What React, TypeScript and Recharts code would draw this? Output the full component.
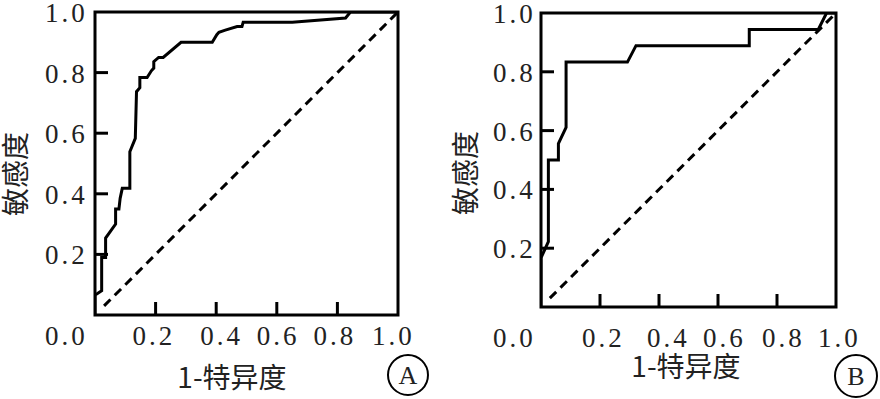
import React from 'react';
import { LineChart, Line, XAxis, YAxis, ReferenceArea } from 'recharts';

// ---- Data ----
const TICKS = [0, 0.2, 0.4, 0.6, 0.8, 1.0];
const X_TITLE = '1-特异度';
const Y_TITLE = '敏感度';

// Panel A ROC curve (1-specificity, sensitivity)
const A_FPR = [0, 0, 0.007, 0.022, 0.022, 0.035, 0.035, 0.068, 0.068, 0.079, 0.083, 0.09, 0.115, 0.115, 0.133, 0.137, 0.148, 0.148, 0.172, 0.186, 0.194, 0.194, 0.21, 0.225, 0.284, 0.387, 0.402, 0.409, 0.43, 0.469, 0.485, 0.489, 0.651, 0.827, 0.843, 1];
const A_TPR = [0, 0.066, 0.07, 0.08, 0.19, 0.19, 0.254, 0.3, 0.35, 0.35, 0.385, 0.418, 0.418, 0.539, 0.583, 0.737, 0.75, 0.784, 0.784, 0.806, 0.815, 0.836, 0.85, 0.85, 0.9, 0.9, 0.925, 0.933, 0.94, 0.952, 0.952, 0.966, 0.966, 0.98, 1, 1];

// Panel B ROC curve
const B_FPR = [0, 0, 0.025, 0.025, 0.059, 0.059, 0.085, 0.085, 0.293, 0.322, 0.706, 0.706, 0.94, 0.968, 1];
const B_TPR = [0, 0.167, 0.222, 0.5, 0.5, 0.556, 0.611, 0.833, 0.833, 0.889, 0.889, 0.944, 0.944, 1, 1];

// Reference diagonal
const DIAG_X = [0.03, 1];
const DIAG_Y = [0.03, 1];

const toPts = (xs: number[], ys: number[]) => xs.map((x, i) => ({ x, y: ys[i] }));
const dataA = toPts(A_FPR, A_TPR);
const dataB = toPts(B_FPR, B_TPR);
const diag = toPts(DIAG_X, DIAG_Y);

const NUM_FONT = "'Liberation Serif', 'DejaVu Serif', serif";
const CJK_FONT = "'Noto Sans CJK SC', 'Noto Sans', sans-serif";

type PanelCfg = {
  letter: string;
  data: { x: number; y: number }[];
  margin: { top: number; right: number; left: number; bottom: number };
  yAxisWidth: number;
  xAxisHeight: number;
  xLabelOffsets: number[];
  xLabelDy: number;
  yLabelDx: number;
  xTitle: { x: number; y: number };
  yTitle: { x: number; y: number };
  circle: { x: number; y: number; r: number };
};

const numStyle = { fontFamily: NUM_FONT, fontSize: 27, letterSpacing: 3 } as const;

const makeXTick = (cfg: PanelCfg) => (props: any) => {
  const { x, y, payload } = props;
  const v = payload.value as number;
  const i = Math.round(v * 5);
  return (
    <g>
      {v > 0 && v < 1 && (
        <line x1={x} x2={x} y1={y} y2={y - 13} stroke="#000" strokeWidth={3} />
      )}
      <text
        x={x + cfg.xLabelOffsets[i]}
        y={y + cfg.xLabelDy}
        textAnchor="start"
        style={numStyle}
        fill="#222"
      >
        {v.toFixed(1)}
      </text>
    </g>
  );
};

const makeYTick = (cfg: PanelCfg) => (props: any) => {
  const { x, y, payload } = props;
  const v = payload.value as number;
  return (
    <g>
      {v > 0 && v < 1 && (
        <line x1={x} x2={x + 13} y1={y} y2={y} stroke="#000" strokeWidth={3} />
      )}
      {v > 0 && (
        <text
          x={x + cfg.yLabelDx}
          y={y + 10}
          textAnchor="start"
          style={numStyle}
          fill="#222"
        >
          {v.toFixed(1)}
        </text>
      )}
    </g>
  );
};

const Panel = ({ cfg }: { cfg: PanelCfg }) => (
  <LineChart width={440} height={399} margin={cfg.margin}>
    <XAxis
      type="number"
      dataKey="x"
      domain={[0, 1]}
      ticks={TICKS}
      allowDataOverflow
      axisLine={false}
      tickLine={false}
      tickSize={0}
      tickMargin={0}
      height={cfg.xAxisHeight}
      interval={0}
      tick={makeXTick(cfg)}
      label={{
        content: () => (
          <g>
            <text
              x={cfg.xTitle.x}
              y={cfg.xTitle.y}
              textAnchor="middle"
              style={{ fontFamily: CJK_FONT, fontSize: 28 }}
              fill="#222"
            >
              {X_TITLE}
            </text>
            <circle
              cx={cfg.circle.x}
              cy={cfg.circle.y}
              r={cfg.circle.r}
              fill="none"
              stroke="#000"
              strokeWidth={2}
            />
            <text
              x={cfg.circle.x}
              y={cfg.circle.y + 9}
              textAnchor="middle"
              style={{ fontFamily: NUM_FONT, fontSize: 26 }}
              fill="#222"
            >
              {cfg.letter}
            </text>
          </g>
        ),
      }}
    />
    <YAxis
      type="number"
      dataKey="y"
      domain={[0, 1]}
      ticks={TICKS}
      allowDataOverflow
      axisLine={false}
      tickLine={false}
      tickSize={0}
      tickMargin={0}
      width={cfg.yAxisWidth}
      interval={0}
      tick={makeYTick(cfg)}
      label={{
        content: () => (
          <text
            x={cfg.yTitle.x}
            y={cfg.yTitle.y}
            transform={`rotate(-90, ${cfg.yTitle.x}, ${cfg.yTitle.y})`}
            textAnchor="middle"
            style={{ fontFamily: CJK_FONT, fontSize: 28 }}
            fill="#222"
          >
            {Y_TITLE}
          </text>
        ),
      }}
    />
    <ReferenceArea
      x1={0}
      x2={1}
      y1={0}
      y2={1}
      fill="none"
      fillOpacity={0}
      stroke="#000"
      strokeWidth={3}
      ifOverflow="visible"
    />
    <Line
      data={diag}
      dataKey="y"
      type="linear"
      stroke="#000"
      strokeWidth={3}
      strokeDasharray="9 6"
      dot={false}
      activeDot={false}
      isAnimationActive={false}
    />
    <Line
      data={cfg.data}
      dataKey="y"
      type="linear"
      stroke="#000"
      strokeWidth={3}
      strokeLinejoin="miter"
      dot={false}
      activeDot={false}
      isAnimationActive={false}
    />
  </LineChart>
);

const panelA: PanelCfg = {
  letter: 'A',
  data: dataA,
  margin: { top: 12, right: 42, left: 0, bottom: 0 },
  yAxisWidth: 95,
  xAxisHeight: 84,
  xLabelOffsets: [-50, -23, -16, -20, -24, -26],
  xLabelDy: 30,
  yLabelDx: -50,
  xTitle: { x: 232, y: 388 },
  yTitle: { x: 26, y: 174 },
  circle: { x: 408, y: 375, r: 20 },
};

const panelB: PanelCfg = {
  letter: 'B',
  data: dataB,
  margin: { top: 13, right: 44, left: 0, bottom: 0 },
  yAxisWidth: 101,
  xAxisHeight: 92,
  xLabelOffsets: [-48, -18, -12, -15, -15, -18],
  xLabelDy: 40,
  yLabelDx: -48,
  xTitle: { x: 686 - 440, y: 377 },
  yTitle: { x: 476 - 440, y: 173 },
  circle: { x: 856 - 440, y: 376, r: 21 },
};

export default function App() {
  return (
    <div
      style={{
        position: 'absolute',
        left: 0,
        top: 0,
        width: 880,
        height: 399,
        background: '#fff',
        display: 'flex',
      }}
    >
      <Panel cfg={panelA} />
      <Panel cfg={panelB} />
    </div>
  );
}
